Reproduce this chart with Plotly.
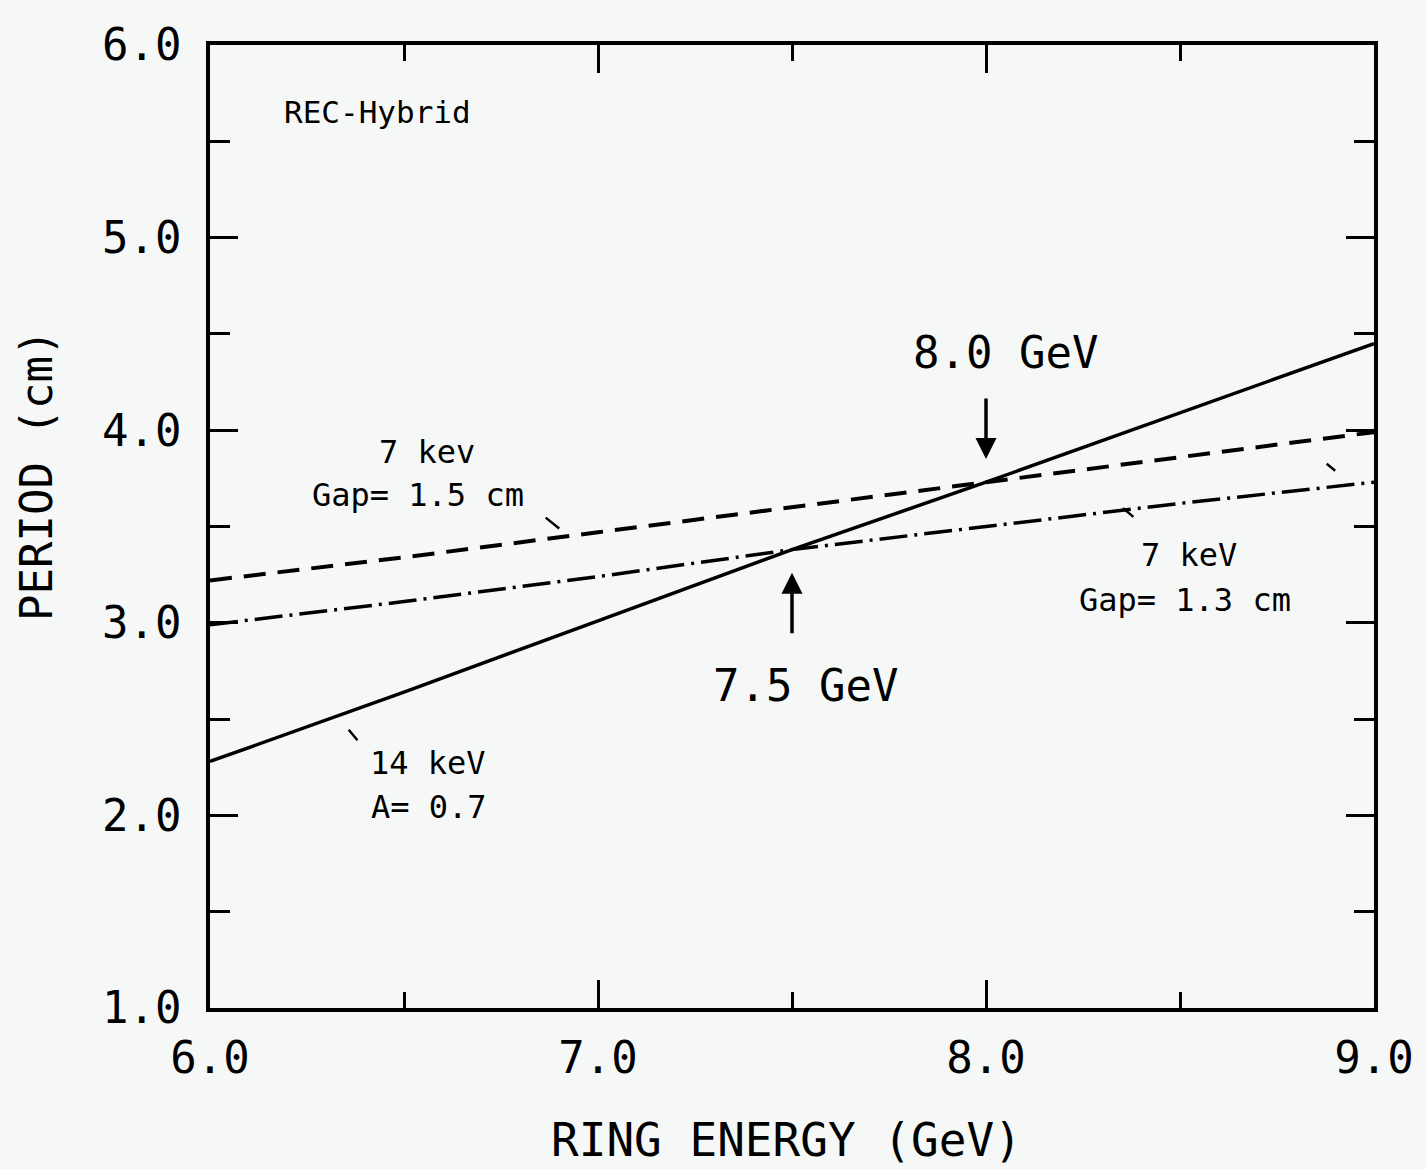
import plotly.graph_objects as go

# ---- data ----
energy = [6.0, 6.5, 7.0, 7.5, 8.0, 8.5, 9.0]
period_14kev = [2.28, 2.64, 3.01, 3.38, 3.73, 4.09, 4.45]
period_7kev_gap15 = [3.22, 3.34, 3.47, 3.60, 3.73, 3.86, 3.99]
period_7kev_gap13 = [2.99, 3.11, 3.24, 3.38, 3.50, 3.62, 3.73]

x_tickvals = [6.0, 7.0, 8.0, 9.0]
x_ticktext = ["6.0", "7.0", "8.0", "9.0"]
y_tickvals = [1.0, 2.0, 3.0, 4.0, 5.0, 6.0]
y_ticktext = ["1.0", "2.0", "3.0", "4.0", "5.0", "6.0"]

FONT = "DejaVu Sans Mono"
BG = "#f6f8f8"

fig = go.Figure()
fig.add_trace(go.Scatter(x=energy, y=period_14kev, mode="lines",
                         line=dict(color="black", width=3.5), showlegend=False))
fig.add_trace(go.Scatter(x=energy, y=period_7kev_gap15, mode="lines",
                         line=dict(color="black", width=4, dash="22px,12px"), showlegend=False))
fig.add_trace(go.Scatter(x=energy, y=period_7kev_gap13, mode="lines",
                         line=dict(color="black", width=3.5, dash="28px,7px,3px,7px"), showlegend=False))

def txt(x, y, s, size):
    fig.add_annotation(x=x, y=y, text=s, showarrow=False, xanchor="center", yanchor="middle",
                       font=dict(family=FONT, size=size, color="black"))

txt(6.432, 5.652, "REC-Hybrid", 31)
txt(6.558, 3.887, "7 kev", 32)
txt(6.537, 3.663, "Gap= 1.5 cm", 32)
txt(8.049, 4.406, "8.0 GeV", 44)
txt(7.535, 2.672, "7.5 GeV", 44)
txt(8.524, 3.352, "7 keV", 32)
txt(8.514, 3.118, "Gap= 1.3 cm", 32)
txt(6.563, 2.272, "14 keV", 32)
txt(6.565, 2.044, "A= 0.7", 32)

# axis titles
fig.add_annotation(xref="paper", yref="paper", x=0.495, y=-0.137, text="RING ENERGY (GeV)",
                   showarrow=False, xanchor="center", yanchor="middle",
                   font=dict(family=FONT, size=46, color="black"))
fig.add_annotation(xref="paper", yref="paper", x=-0.149, y=0.553, text="PERIOD (cm)",
                   showarrow=False, xanchor="center", yanchor="middle", textangle=-90,
                   font=dict(family=FONT, size=44, color="black"))

# arrows
fig.add_annotation(x=8.0, y=3.85, ax=0, ay=-62, text="", showarrow=True,
                   arrowhead=2, arrowsize=1.2, arrowwidth=3.5, arrowcolor="black")
fig.add_annotation(x=7.5, y=3.26, ax=0, ay=62, text="", showarrow=True,
                   arrowhead=2, arrowsize=1.2, arrowwidth=3.5, arrowcolor="black")

# small pointer ticks
for (px, py, dx, dy) in [(6.90, 3.49, -15, -12), (6.38, 2.39, -10, -12),
                         (8.38, 3.55, -12, -10), (8.90, 3.79, -10, -8)]:
    fig.add_annotation(x=px, y=py, ax=dx, ay=dy, text="", showarrow=True,
                       arrowhead=0, arrowwidth=2.5, arrowcolor="black")

axis_common = dict(showgrid=False, zeroline=False, showline=True, linecolor="black",
                   linewidth=3.5, mirror="allticks", ticks="inside", tickcolor="black",
                   tickwidth=3, tickfont=dict(family=FONT, size=44, color="black"))

fig.update_xaxes(range=[6.0, 9.0], tickvals=x_tickvals, ticktext=x_ticktext, ticklen=28,
                 ticklabelstandoff=8,
                 minor=dict(ticks="inside", dtick=0.5, tick0=6.0, ticklen=16, tickwidth=3,
                            tickcolor="black"),
                 **axis_common)
fig.update_yaxes(range=[1.0, 6.0], tickvals=y_tickvals, ticktext=y_ticktext, ticklen=28,
                 ticklabelstandoff=16,
                 minor=dict(ticks="inside", dtick=0.5, tick0=1.0, ticklen=20, tickwidth=3,
                            tickcolor="black"),
                 **axis_common)

fig.update_layout(width=1426, height=1169, paper_bgcolor=BG, plot_bgcolor=BG,
                  margin=dict(l=210, r=48, t=45, b=161))

fig.write_html("out.html", config={"displayModeBar": False},
               post_script="document.body.style.margin='0';document.body.style.background='%s';" % BG)
